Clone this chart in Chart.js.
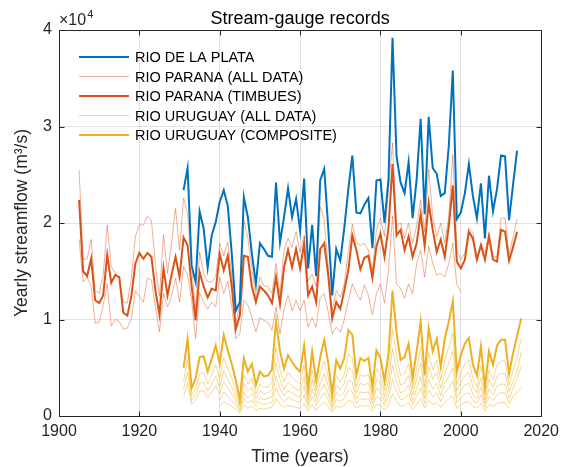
<!DOCTYPE html>
<html>
<head>
<meta charset="utf-8">
<script src="https://cdn.jsdelivr.net/npm/chart.js@4.4.0/dist/chart.umd.min.js"></script>
<style>
  html, body { margin: 0; padding: 0; background: #fff; }
  #wrap { width: 565px; height: 467px; }
</style>
</head>
<body>
<div id="wrap"><canvas id="myCanvasStream" width="565" height="467"></canvas></div>
<script>
// yearly streamflow, thousands of m3/s, one value per year from the start year
var plataStart = 1931;
var plataFlow = [23.4, 25.7, 15.6, 13.9, 21.2, 19.4, 15.4, 18.7, 20.1, 22.2,
    23.4, 21.8, 16.8, 10.9, 11.8, 22.7, 20.6, 16.8, 13.7, 17.9,
    17.3, 16.6, 16.5, 24.2, 18.0, 20.6, 23.6, 20.6, 22.5, 19.2,
    24.6, 15.3, 19.8, 14.5, 24.4, 25.6, 19.5, 12.5, 17.3, 16.1,
    19.5, 23.5, 27.0, 21.1, 21.0, 21.9, 22.6, 17.4, 24.4, 24.5,
    20.0, 24.5, 39.2, 26.9, 24.2, 23.1, 26.3, 20.5, 24.5, 30.8,
    20.9, 31.0, 25.7, 25.1, 22.8, 23.1, 28.0, 35.8, 20.4, 21.1,
    23.1, 26.1, 22.8, 20.5, 24.1, 18.4, 24.9, 21.2, 23.5, 27.0,
    26.9, 20.3, 24.0, 27.5];

var paranaStart = 1905;
var paranaTimbues = [22.4, 15.0, 14.5, 16.3, 12.0, 11.7,
    12.5, 16.7, 13.8, 14.6, 14.4, 10.7, 10.4, 12.4, 15.8, 16.9,
    16.3, 16.9, 16.5, 13.0, 10.5, 15.3, 12.5, 14.6, 16.5, 14.4,
    18.5, 17.7, 13.5, 9.9, 14.9, 13.4, 12.3, 13.2, 13.0, 16.8,
    15.1, 16.6, 13.4, 9.0, 10.4, 16.6, 16.5, 13.4, 11.8, 13.4,
    13.0, 12.5, 11.7, 14.4, 11.6, 15.4, 17.2, 15.4, 17.3, 15.3,
    17.9, 12.5, 13.4, 11.8, 17.3, 17.9, 14.6, 10.1, 11.8, 11.1,
    13.0, 15.1, 18.7, 17.2, 15.2, 16.4, 16.6, 14.3, 17.6, 18.9,
    16.5, 19.5, 26.1, 18.7, 19.3, 17.2, 18.6, 16.5, 17.9, 20.9,
    17.6, 22.1, 19.3, 17.0, 18.3, 16.5, 19.7, 23.9, 16.0, 15.3,
    16.2, 19.1, 18.4, 16.2, 17.7, 16.2, 18.6, 16.2, 16.0, 19.3,
    19.1, 16.1, 17.5, 19.1];
var paranaUpper = [25.5, 16.2, 16.3, 18.3, 13.0, 12.7,
    14.6, 19.8, 15.5, 14.8, 14.3, 11.8, 11.7, 14.3, 18.6, 19.8,
    19.8, 20.7, 20.3, 15.6, 12.4, 18.8, 14.8, 17.9, 21.5, 17.2,
    22.6, 21.0, 15.5, 11.0, 17.0, 14.7, 13.9, 13.9, 14.4, 17.9,
    16.6, 18.0, 14.6, 9.6, 11.6, 20.3, 18.4, 15.3, 12.3, 14.4,
    13.5, 13.4, 12.7, 15.8, 12.7, 17.2, 18.4, 17.5, 19.1, 17.0,
    18.7, 14.0, 14.7, 13.4, 21.7, 20.4, 15.4, 10.9, 13.0, 12.3,
    13.7, 17.0, 19.9, 17.9, 17.7, 17.9, 17.2, 15.1, 19.3, 20.5,
    18.6, 23.5, 28.3, 19.7, 20.0, 18.4, 20.0, 17.9, 19.7, 22.4,
    19.1, 25.6, 20.7, 18.6, 20.0, 17.9, 20.7, 27.1, 17.2, 16.2,
    16.9, 19.5, 19.0, 16.5, 17.9, 16.9, 19.0, 16.5, 16.5, 20.5,
    20.5, 16.8, 18.5, 20.4];
var paranaLower = [18.3, 13.9, 14.4, 13.4, 9.6, 9.7,
    11.5, 13.7, 9.3, 10.0, 9.8, 9.0, 9.1, 10.1, 13.0, 12.4,
    11.8, 14.3, 14.1, 11.3, 8.7, 12.7, 11.3, 12.4, 14.3, 11.8,
    15.5, 14.6, 12.0, 8.0, 12.8, 11.8, 11.1, 11.8, 11.3, 14.4,
    12.7, 14.0, 11.3, 8.0, 8.5, 12.0, 11.5, 10.2, 8.7, 10.2,
    9.9, 9.7, 8.9, 11.3, 8.5, 11.1, 12.5, 10.9, 12.0, 10.9,
    12.0, 9.2, 10.2, 9.2, 12.3, 12.7, 10.8, 8.5, 9.2, 8.7,
    10.0, 12.0, 13.7, 12.7, 12.0, 13.6, 12.5, 10.5, 12.7, 13.7,
    11.7, 15.1, 20.7, 13.7, 13.2, 12.2, 13.7, 12.7, 15.8, 17.2,
    14.4, 17.6, 15.8, 14.6, 14.8, 14.4, 15.8, 17.9, 13.6, 12.9];

var uruguayStart = 1931;
var uruguayComposite = [5.0, 8.0, 2.9, 3.9, 6.1, 6.2, 4.6, 5.9, 7.3, 5.4,
    8.4, 6.8, 5.4, 3.7, 1.7, 6.0, 4.6, 5.4, 3.2, 4.6,
    4.1, 4.2, 4.8, 9.8, 6.7, 4.9, 6.3, 5.6, 5.0, 4.6,
    7.3, 2.9, 6.7, 3.6, 6.1, 7.9, 5.5, 2.3, 5.8, 4.9,
    6.0, 8.9, 8.4, 4.2, 6.0, 5.7, 6.0, 3.0, 6.8, 6.0,
    3.6, 6.5, 13.0, 8.6, 5.8, 6.1, 7.5, 3.9, 6.7, 9.8,
    4.2, 9.1, 6.7, 8.0, 5.1, 8.0, 9.8, 11.9, 4.6, 6.3,
    7.5, 8.1, 5.3, 4.2, 7.2, 3.0, 6.7, 5.3, 7.3, 7.9,
    7.9, 4.4, 6.5, 8.3, 10.1];
var uruguayStationA = [3.6, 5.8, 2.1, 2.8, 4.4, 4.5, 3.3, 4.2, 5.3, 3.9,
    6.0, 4.9, 3.9, 2.7, 1.2, 4.3, 3.3, 3.9, 2.3, 3.3,
    3.0, 3.0, 3.5, 7.1, 4.8, 3.5, 4.5, 4.0, 3.6, 3.3,
    5.3, 2.1, 4.8, 2.6, 4.4, 5.7, 4.0, 1.7, 4.2, 3.5,
    4.3, 6.4, 6.0, 3.0, 4.3, 4.1, 4.3, 2.2, 4.9, 4.3,
    2.6, 4.7, 9.0, 6.2, 4.2, 4.4, 5.4, 2.8, 4.8, 7.1,
    3.0, 6.6, 4.8, 5.8, 3.7, 5.8, 7.1, 8.6, 3.3, 4.5,
    5.4, 5.8, 3.8, 3.0, 5.2, 2.2, 4.8, 3.8, 5.3, 5.7,
    5.7, 3.2, 4.7, 6.0, 8.0];
var uruguayStationB = [2.8, 4.5, 1.6, 2.2, 3.4, 3.5, 2.6, 3.3, 4.1, 3.0,
    4.7, 3.8, 3.0, 2.1, 1.0, 3.4, 2.6, 3.0, 1.8, 2.6,
    2.3, 2.4, 2.7, 5.5, 3.8, 2.7, 3.5, 3.1, 2.8, 2.6,
    4.1, 1.6, 3.8, 2.0, 3.4, 4.4, 3.1, 1.3, 3.2, 2.7,
    3.4, 5.0, 4.7, 2.4, 3.4, 3.2, 3.4, 1.7, 3.8, 3.4,
    2.0, 3.6, 7.0, 4.8, 3.2, 3.4, 4.2, 2.2, 3.8, 5.5,
    2.4, 5.1, 3.8, 4.5, 2.9, 4.5, 5.5, 6.7, 2.6, 3.5,
    4.2, 4.5, 3.0, 2.4, 4.0, 1.7, 3.8, 3.0, 4.1, 4.4,
    4.4, 2.5, 3.6, 4.6, 6.6];
var uruguayStationC = [2.1, 3.4, 1.2, 1.6, 2.6, 2.6, 1.9, 2.5, 3.1, 2.3,
    3.5, 2.9, 2.3, 1.6, 0.7, 2.5, 1.9, 2.3, 1.3, 1.9,
    1.7, 1.8, 2.0, 4.1, 2.8, 2.1, 2.6, 2.4, 2.1, 1.9,
    3.1, 1.2, 2.8, 1.5, 2.6, 3.3, 2.3, 1.0, 2.4, 2.1,
    2.5, 3.7, 3.5, 1.8, 2.5, 2.4, 2.5, 1.3, 2.9, 2.5,
    1.5, 2.7, 5.3, 3.6, 2.4, 2.6, 3.2, 1.6, 2.8, 4.1,
    1.8, 3.8, 2.8, 3.4, 2.1, 3.4, 4.1, 5.0, 1.9, 2.6,
    3.2, 3.4, 2.2, 1.8, 3.0, 1.3, 2.8, 2.2, 3.1, 3.3,
    3.3, 1.8, 2.9, 3.9, 5.1];
var uruguayLateStart = 1940;
var uruguayStationD = [1.6,
    2.5, 2.0, 1.6, 1.1, 0.5, 1.8, 1.4, 1.6, 1.0, 1.4,
    1.2, 1.3, 1.4, 2.9, 2.0, 1.5, 1.9, 1.7, 1.5, 1.4,
    2.2, 0.9, 2.0, 1.1, 1.8, 2.4, 1.7, 0.7, 1.7, 1.5,
    1.8, 2.7, 2.5, 1.3, 1.8, 1.7, 1.8, 0.9, 2.0, 1.8,
    1.1, 2.0, 3.8, 2.6, 1.7, 1.8, 2.3, 1.2, 2.0, 2.9,
    1.3, 2.7, 2.0, 2.4, 1.5, 2.4, 2.9, 3.6, 1.4, 1.9,
    2.3, 2.4, 1.6, 1.3, 2.2, 0.9, 2.0, 1.6, 2.2, 2.4,
    2.4, 1.3, 2.0, 2.5, 2.9];
var uruguayStationE = [1.0,
    1.5, 1.2, 1.0, 0.7, 0.3, 1.1, 0.8, 1.0, 0.6, 0.8,
    0.7, 0.8, 0.9, 1.8, 1.2, 0.9, 1.1, 1.0, 0.9, 0.8,
    1.3, 0.5, 1.2, 0.6, 1.1, 1.4, 1.0, 0.4, 1.0, 0.9,
    1.1, 1.6, 1.5, 0.8, 1.1, 1.0, 1.1, 0.5, 1.2, 1.1,
    0.6, 1.2, 2.3, 1.5, 1.0, 1.1, 1.4, 0.7, 1.2, 1.8,
    0.8, 1.6, 1.2, 1.4, 0.9, 1.4, 1.8, 2.1, 0.8, 1.1,
    1.4, 1.5, 1.0, 0.8, 1.3, 0.5, 1.2, 1.0, 1.3, 1.4,
    1.4, 0.8];

var xTicks = [1900, 1920, 1940, 1960, 1980, 2000, 2020];
var yTicks = [0, 1, 2, 3, 4];   // x 10^4
var legendLabels = ['RIO DE LA PLATA', 'RIO PARANA (ALL DATA)', 'RIO PARANA (TIMBUES)',
    'RIO URUGUAY (ALL DATA)', 'RIO URUGUAY (COMPOSITE)'];

var azul = '#0072BD', laranja = '#D95319', amarelo = '#EDB120';
var laranjaFraco = 'rgba(217,83,25,0.45)', amareloFraco = 'rgba(237,177,32,0.5)';
var fonte = "'Liberation Sans', Arial, Helvetica, sans-serif";
var corEixo = '#262626';

var paraPontos = function(inicio, valores) {
    var pts = [];
    for (var i = 0; i < valores.length; i++) {
        pts.push({x: inicio + i, y: valores[i] * 1000});
    }
    return pts;
};

var linha = function(label, inicio, valores, cor, largura) {
    return {
        label: label,
        data: paraPontos(inicio, valores),
        borderColor: cor,
        backgroundColor: cor,
        borderWidth: largura,
        pointRadius: 0,
        fill: false,
        tension: 0
    };
};

// first dataset index is drawn on top
var datasets = [
    linha(legendLabels[0], plataStart, plataFlow, azul, 2),
    linha(legendLabels[2], paranaStart, paranaTimbues, laranja, 2),
    linha(legendLabels[4], uruguayStart, uruguayComposite, amarelo, 2),
    linha(legendLabels[1], paranaStart, paranaUpper, laranjaFraco, 1),
    linha(legendLabels[1], paranaStart, paranaLower, laranjaFraco, 1),
    linha(legendLabels[3], uruguayStart, uruguayStationA, amareloFraco, 1),
    linha(legendLabels[3], uruguayStart, uruguayStationB, amareloFraco, 1),
    linha(legendLabels[3], uruguayStart, uruguayStationC, amareloFraco, 1),
    linha(legendLabels[3], uruguayLateStart, uruguayStationD, amareloFraco, 1),
    linha(legendLabels[3], uruguayLateStart, uruguayStationE, amareloFraco, 1)
];

var molduraMatlab = {
    id: 'molduraMatlab',
    afterDraw: function(chart) {
        var ctx = chart.ctx;
        var a = chart.chartArea;
        var sx = chart.scales.x, sy = chart.scales.y;
        var l = Math.round(a.left) + 0.5, r = Math.round(a.right) + 0.5;
        var t = Math.round(a.top) + 0.5, b = Math.round(a.bottom) + 0.5;
        ctx.save();
        ctx.strokeStyle = corEixo;
        ctx.lineWidth = 1;
        ctx.strokeRect(l, t, r - l, b - t);
        ctx.beginPath();
        xTicks.forEach(function(v) {
            var px = Math.round(sx.getPixelForValue(v)) + 0.5;
            ctx.moveTo(px, b); ctx.lineTo(px, b - 5);
            ctx.moveTo(px, t); ctx.lineTo(px, t + 5);
        });
        yTicks.forEach(function(v) {
            var py = Math.round(sy.getPixelForValue(v * 10000)) + 0.5;
            ctx.moveTo(l, py); ctx.lineTo(l + 5, py);
            ctx.moveTo(r, py); ctx.lineTo(r - 5, py);
        });
        ctx.stroke();

        // exponent label
        ctx.fillStyle = corEixo;
        ctx.textAlign = 'left';
        ctx.textBaseline = 'alphabetic';
        ctx.font = '16px ' + fonte;
        ctx.fillText('\u00d710', a.left, 25);
        var w = ctx.measureText('\u00d710').width;
        ctx.font = '11px ' + fonte;
        ctx.fillText('4', a.left + w + 1, 18);

        // title
        ctx.fillStyle = '#000';
        ctx.textAlign = 'center';
        ctx.font = '18px ' + fonte;
        ctx.fillText('Stream-gauge records', (a.left + a.right) / 2, 24);

        // legend
        ctx.font = '14.5px ' + fonte;
        ctx.textAlign = 'left';
        ctx.textBaseline = 'middle';
        legendLabels.forEach(function(lab, i) {
            var ds = chart.data.datasets.filter(function(d) { return d.label === lab; })[0];
            var y = 57 + i * 19.5;
            ctx.strokeStyle = ds.borderColor;
            ctx.lineWidth = ds.borderWidth;
            ctx.beginPath();
            ctx.moveTo(79, y); ctx.lineTo(129, y);
            ctx.stroke();
            ctx.fillStyle = '#000';
            ctx.fillText(lab, 135, y + 1);
        });
        ctx.restore();
    }
};

Chart.defaults.font.family = fonte;
Chart.defaults.color = corEixo;

var grafico = new Chart(document.getElementById('myCanvasStream'), {
    type: 'line',
    data: { datasets: datasets },
    options: {
        responsive: false,
        animation: false,
        spanGaps: false,
        layout: { padding: { top: 30, right: 19, bottom: 0, left: 0 } },
        plugins: {
            legend: { display: false },
            tooltip: { enabled: false },
            title: { display: false }
        },
        scales: {
            x: {
                type: 'linear',
                min: 1900,
                max: 2020,
                afterFit: function(scale) { scale.height = 51; },
                afterBuildTicks: function(scale) {
                    scale.ticks = xTicks.map(function(v) { return {value: v}; });
                },
                ticks: {
                    font: { size: 16 },
                    color: corEixo,
                    padding: 6,
                    maxRotation: 0,
                    callback: function(v) { return String(v); }
                },
                grid: { color: 'rgba(38,38,38,0.13)', lineWidth: 1, drawTicks: false },
                border: { display: false },
                title: {
                    display: true,
                    text: 'Time (years)',
                    font: { size: 17.5 },
                    color: corEixo,
                    padding: { top: 0, bottom: -1 }
                }
            },
            y: {
                min: 0,
                max: 40000,
                afterFit: function(scale) { scale.width = 59; },
                afterBuildTicks: function(scale) {
                    scale.ticks = yTicks.map(function(v) { return {value: v * 10000}; });
                },
                ticks: {
                    font: { size: 16 },
                    color: corEixo,
                    padding: 7,
                    callback: function(v) { return String(v / 10000); }
                },
                grid: { color: 'rgba(38,38,38,0.13)', lineWidth: 1, drawTicks: false },
                border: { display: false },
                title: {
                    display: true,
                    text: 'Yearly streamflow (m\u00b3/s)',
                    font: { size: 17.5 },
                    color: corEixo,
                    padding: { top: 12, bottom: 0 }
                }
            }
        }
    },
    plugins: [molduraMatlab]
});
</script>
</body>
</html>
